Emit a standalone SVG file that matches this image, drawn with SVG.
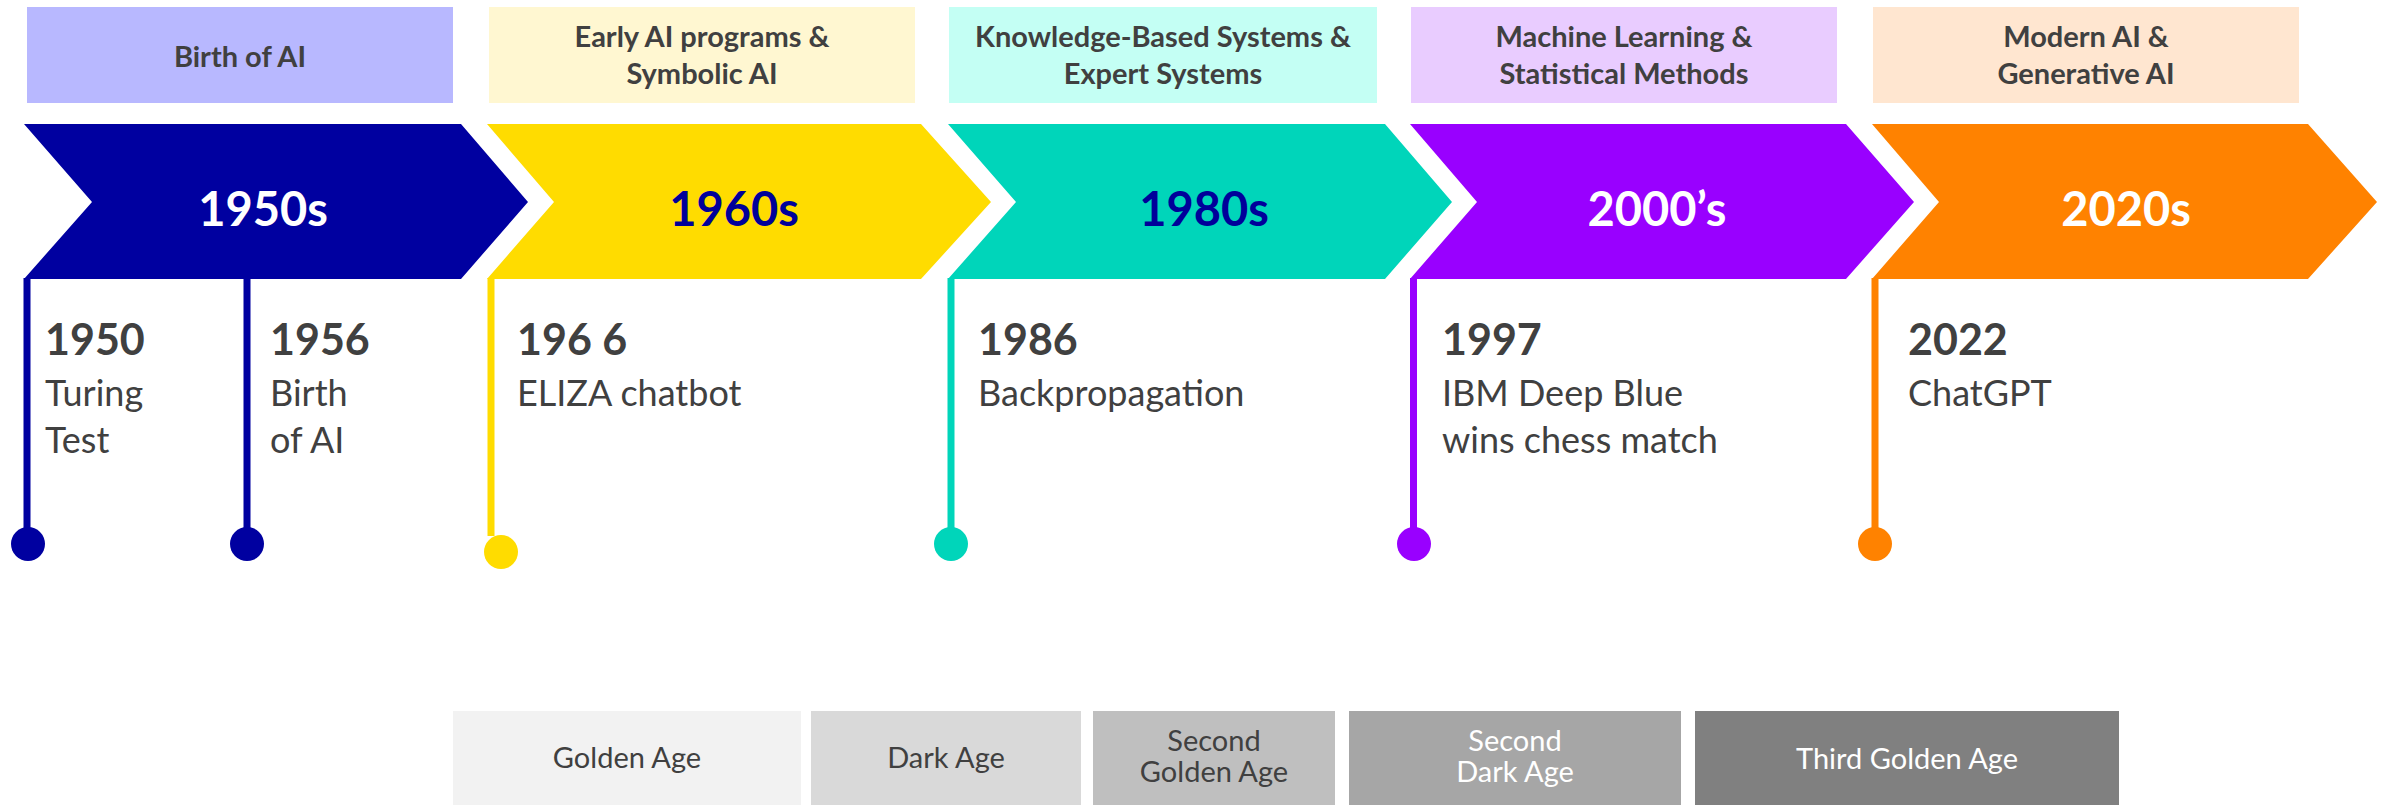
<svg xmlns="http://www.w3.org/2000/svg" width="2387" height="805" viewBox="0 0 2387 805">
<style>
.hdr{font-family:Lato,"Open Sans","Liberation Sans",sans-serif;font-weight:700;font-size:29px;fill:#404040;text-anchor:middle}
.era{font-family:Lato,"Open Sans","Liberation Sans",sans-serif;font-weight:700;font-size:47px;text-anchor:middle}
.yr{font-family:Lato,"Open Sans","Liberation Sans",sans-serif;font-weight:700;font-size:43px;fill:#404040}
.desc{font-family:Lato,"Open Sans","Liberation Sans",sans-serif;font-weight:400;font-size:36px;fill:#404040}
.age{font-family:Lato,"Open Sans","Liberation Sans",sans-serif;font-weight:400;font-size:29px;text-anchor:middle}
.stem{stroke-width:7;fill:none}
</style>
<rect width="2387" height="805" fill="#ffffff"/>

<g id="header-1950s"><rect x="27" y="7" width="426" height="96" fill="#B8B8FF"/><text class="hdr" x="240" y="67">Birth of AI</text></g>
<g id="header-1960s"><rect x="489" y="7" width="426" height="96" fill="#FFF7D1"/><text class="hdr" x="702" y="47">Early AI programs &amp;</text><text class="hdr" x="702" y="84">Symbolic AI</text></g>
<g id="header-1980s"><rect x="949" y="7" width="428" height="96" fill="#C4FFF4"/><text class="hdr" x="1163" y="47">Knowledge-Based Systems &amp;</text><text class="hdr" x="1163" y="84">Expert Systems</text></g>
<g id="header-2000s"><rect x="1411" y="7" width="426" height="96" fill="#E9CCFF"/><text class="hdr" x="1624" y="47">Machine Learning &amp;</text><text class="hdr" x="1624" y="84">Statistical Methods</text></g>
<g id="header-2020s"><rect x="1873" y="7" width="426" height="96" fill="#FFE6D0"/><text class="hdr" x="2086" y="47">Modern AI &amp;</text><text class="hdr" x="2086" y="84">Generative AI</text></g>

<g id="era-1950s"><polygon points="24,124 461,124 528,202 461,279 24,279 92,202" fill="#0000A0"/><text class="era" x="263" y="226" fill="#ffffff">1950s</text></g>
<g id="era-1960s"><polygon points="487,124 921,124 991,202 921,279 487,279 554,202" fill="#FFDC00"/><text class="era" x="734" y="226" fill="#00009A">1960s</text></g>
<g id="era-1980s"><polygon points="948,124 1385,124 1452,202 1385,279 948,279 1016,202" fill="#00D5BA"/><text class="era" x="1204" y="226" fill="#00009A">1980s</text></g>
<g id="era-2000s"><polygon points="1410,124 1846,124 1914,202 1846,279 1410,279 1477,202" fill="#9900FF"/><text class="era" x="1657" y="226" fill="#ffffff">2000’s</text></g>
<g id="era-2020s"><polygon points="1872,124 2308,124 2377,202 2308,279 1872,279 1939,202" fill="#FF8200"/><text class="era" x="2126" y="226" fill="#ffffff">2020s</text></g>

<g id="connectors">
<line class="stem" x1="27" y1="278" x2="27" y2="544" stroke="#0000A0"/><circle cx="28" cy="544" r="17" fill="#0000A0"/>
<line class="stem" x1="247" y1="278" x2="247" y2="544" stroke="#0000A0"/><circle cx="247" cy="544" r="17" fill="#0000A0"/>
<line class="stem" x1="491" y1="278" x2="491" y2="536" stroke="#FFDC00"/><circle cx="501" cy="552" r="17" fill="#FFDC00"/>
<line class="stem" x1="951" y1="278" x2="951" y2="544" stroke="#00D5BA"/><circle cx="951" cy="544" r="17" fill="#00D5BA"/>
<line class="stem" x1="1413.5" y1="278" x2="1413.5" y2="544" stroke="#9900FF"/><circle cx="1414" cy="544" r="17" fill="#9900FF"/>
<line class="stem" x1="1875" y1="278" x2="1875" y2="544" stroke="#FF8200"/><circle cx="1875" cy="544" r="17" fill="#FF8200"/>
</g>

<g id="event-1950"><text class="yr" x="45" y="355">1950</text><text class="desc" x="45" y="406">Turing</text><text class="desc" x="45" y="453">Test</text></g>
<g id="event-1956"><text class="yr" x="270" y="355">1956</text><text class="desc" x="270" y="406">Birth</text><text class="desc" x="270" y="453">of AI</text></g>
<g id="event-1966"><text class="yr" x="517" y="355">196 6</text><text class="desc" x="517" y="406">ELIZA chatbot</text></g>
<g id="event-1986"><text class="yr" x="978" y="355">1986</text><text class="desc" x="978" y="406">Backpropagation</text></g>
<g id="event-1997"><text class="yr" x="1442" y="355">1997</text><text class="desc" x="1442" y="406">IBM Deep Blue</text><text class="desc" x="1442" y="453">wins chess match</text></g>
<g id="event-2022"><text class="yr" x="1908" y="355">2022</text><text class="desc" x="1908" y="406">ChatGPT</text></g>

<g id="age-golden"><rect x="453" y="711" width="348" height="94" fill="#F2F2F2"/><text class="age" x="627" y="768" fill="#404040">Golden Age</text></g>
<g id="age-dark"><rect x="811" y="711" width="270" height="94" fill="#D9D9D9"/><text class="age" x="946" y="768" fill="#404040">Dark Age</text></g>
<g id="age-second-golden"><rect x="1093" y="711" width="242" height="94" fill="#BFBFBF"/><text class="age" x="1214" y="751" fill="#404040">Second</text><text class="age" x="1214" y="782" fill="#404040">Golden Age</text></g>
<g id="age-second-dark"><rect x="1349" y="711" width="332" height="94" fill="#A6A6A6"/><text class="age" x="1515" y="751" fill="#ffffff">Second</text><text class="age" x="1515" y="782" fill="#ffffff">Dark Age</text></g>
<g id="age-third-golden"><rect x="1695" y="711" width="424" height="94" fill="#808080"/><text class="age" x="1907" y="769" fill="#ffffff">Third Golden Age</text></g>
</svg>
